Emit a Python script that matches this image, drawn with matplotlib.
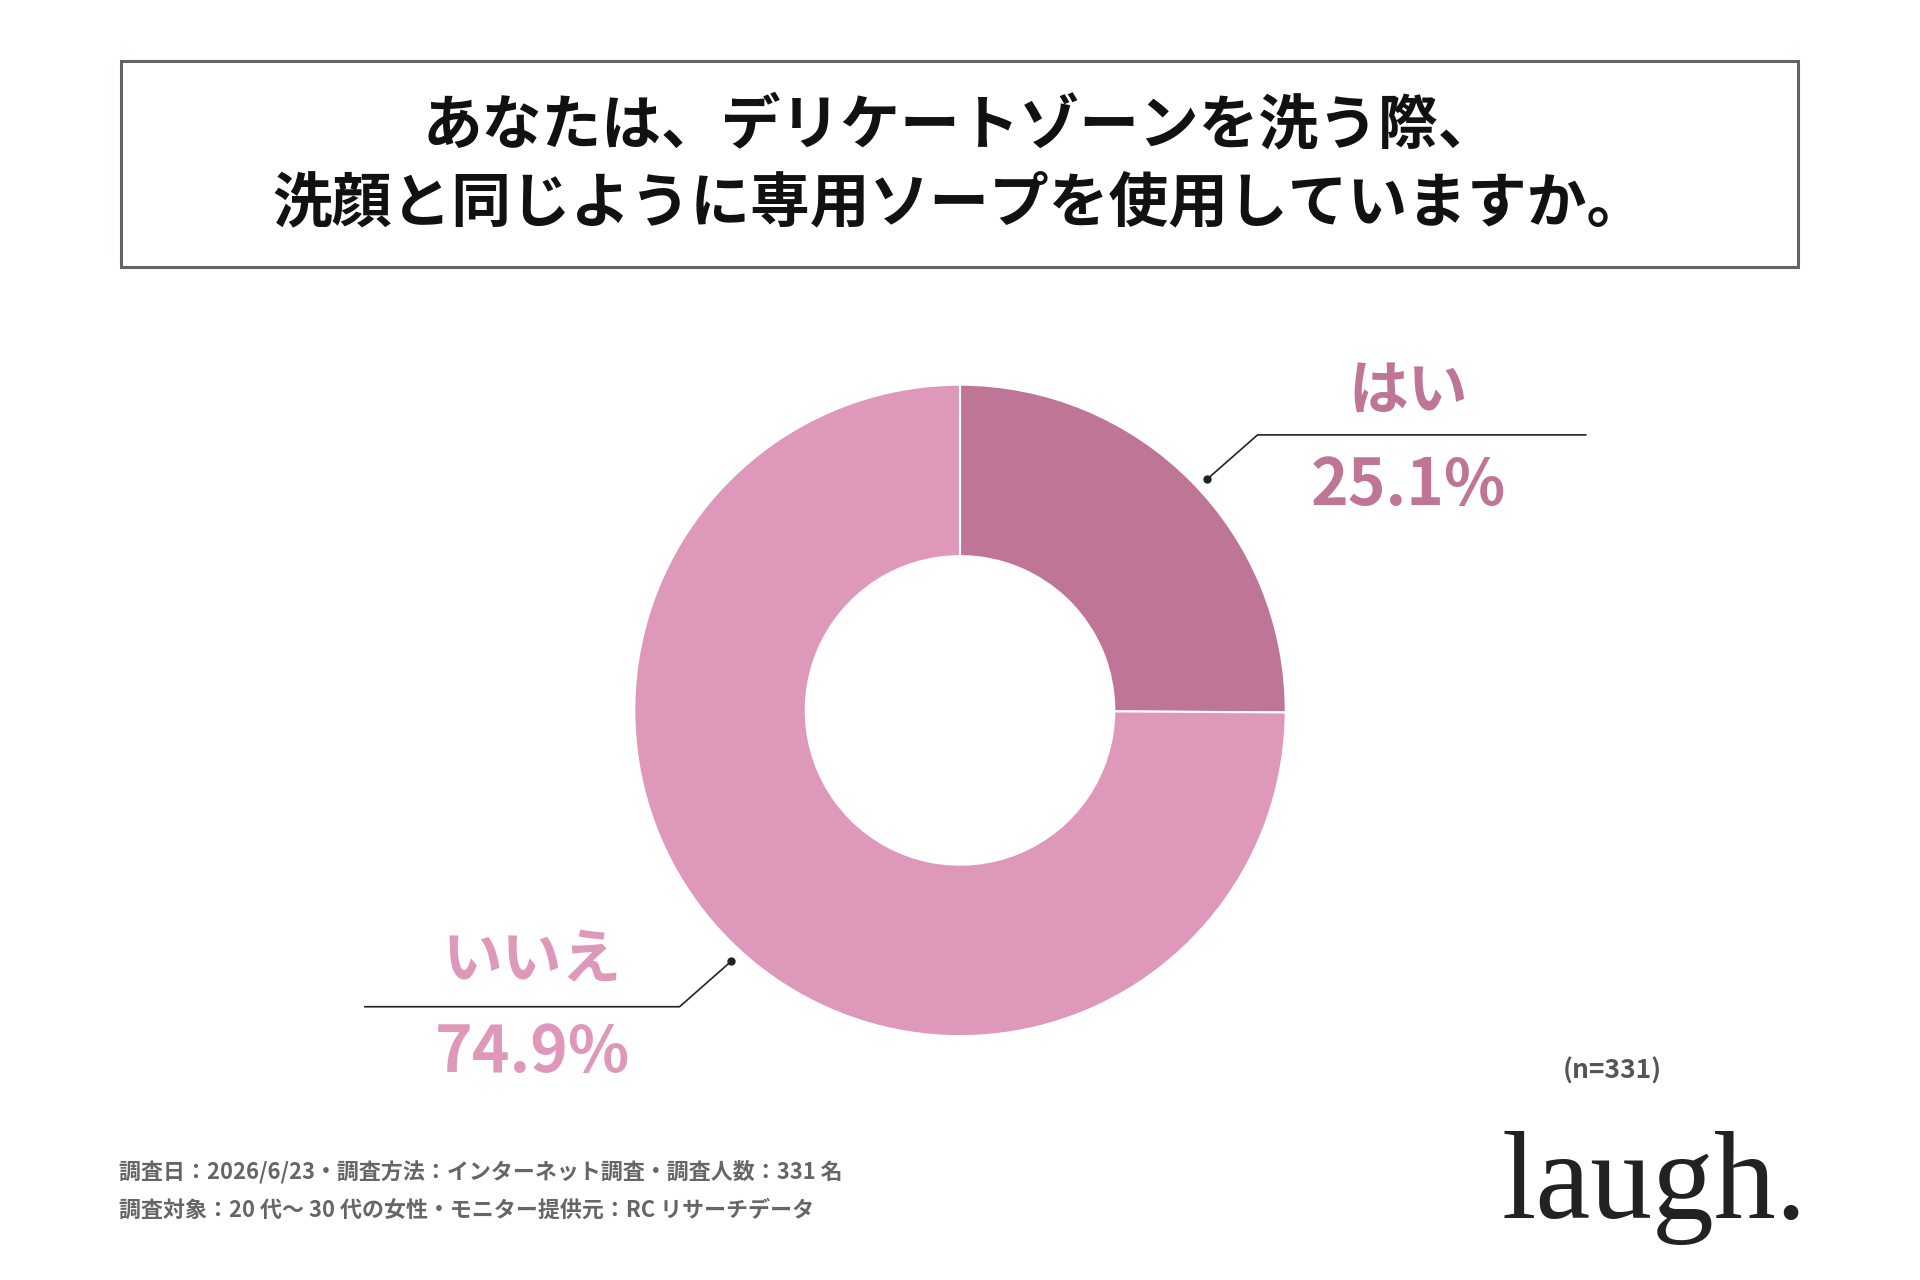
import matplotlib
matplotlib.use("Agg")
import matplotlib.pyplot as plt
from matplotlib.patches import Rectangle

plt.rcParams['font.family'] = ['Noto Sans CJK JP', 'DejaVu Sans']

categories = ["はい", "いいえ"]
values = [25.1, 74.9]
colors = ["#BE7596", "#DD98BA"]
title_lines = ["あなたは、デリケートゾーンを洗う際、", "洗顔と同じように専用ソープを使用していますか。"]
footer = ["調査日：2026/6/23・調査方法：インターネット調査・調査人数：331 名",
          "調査対象：20 代〜 30 代の女性・モニター提供元：RC リサーチデータ"]
n_label = "(n=331)"

W, H = 1568, 1045
fig = plt.figure(figsize=(19.2, 12.8), dpi=100)
ax = fig.add_axes([0, 0, 1, 1])
ax.set_xlim(0, W); ax.set_ylim(0, H); ax.set_aspect('equal'); ax.axis('off')
Y = lambda y: H - y

ax.add_patch(Rectangle((99, Y(218)), 1369, 168, fill=False, ec="#5f6468", lw=2.2))
ax.text(784, Y(103), title_lines[0], ha='center', va='center', fontsize=43, fontweight='bold', color='#111')
ax.text(784, Y(167), title_lines[1], ha='center', va='center', fontsize=43, fontweight='bold', color='#111')

ax.pie(values, colors=colors, startangle=90, counterclock=False, center=(784, Y(580)), radius=266,
       wedgeprops=dict(width=140, edgecolor='white', linewidth=1.5), frame=True)
ax.set_xlim(0, W); ax.set_ylim(0, H); ax.axis('off')

ax.plot([986, 1027, 1295], [Y(391), Y(355), Y(355)], color='#222', lw=1.2)
ax.plot([986], [Y(391)], 'o', color='#222', ms=5)
ax.plot([597, 555, 298], [Y(785), Y(822), Y(822)], color='#222', lw=1.2)
ax.plot([597], [Y(785)], 'o', color='#222', ms=5)

ax.text(1150, Y(320), categories[0], ha='center', va='center', fontsize=43, fontweight='bold', color=colors[0])
ax.text(1150, Y(397), f"{values[0]}%", ha='center', va='center', fontsize=46, fontweight='bold', color=colors[0])
ax.text(435, Y(785), categories[1], ha='center', va='center', fontsize=43, fontweight='bold', color=colors[1])
ax.text(435, Y(860), f"{values[1]}%", ha='center', va='center', fontsize=46, fontweight='bold', color=colors[1])

ax.text(1317, Y(875), n_label, ha='center', va='center', fontsize=19, fontweight='bold', color='#555')
ax.text(97, Y(957), footer[0], ha='left', va='center', fontsize=15.8, fontweight='bold', color='#666')
ax.text(97, Y(988), footer[1], ha='left', va='center', fontsize=15.8, fontweight='bold', color='#666')
ax.text(1351, Y(970), "laugh.", ha='center', va='center', fontsize=89, color='#222', family='Liberation Serif')

fig.savefig("out.png", dpi=100)
